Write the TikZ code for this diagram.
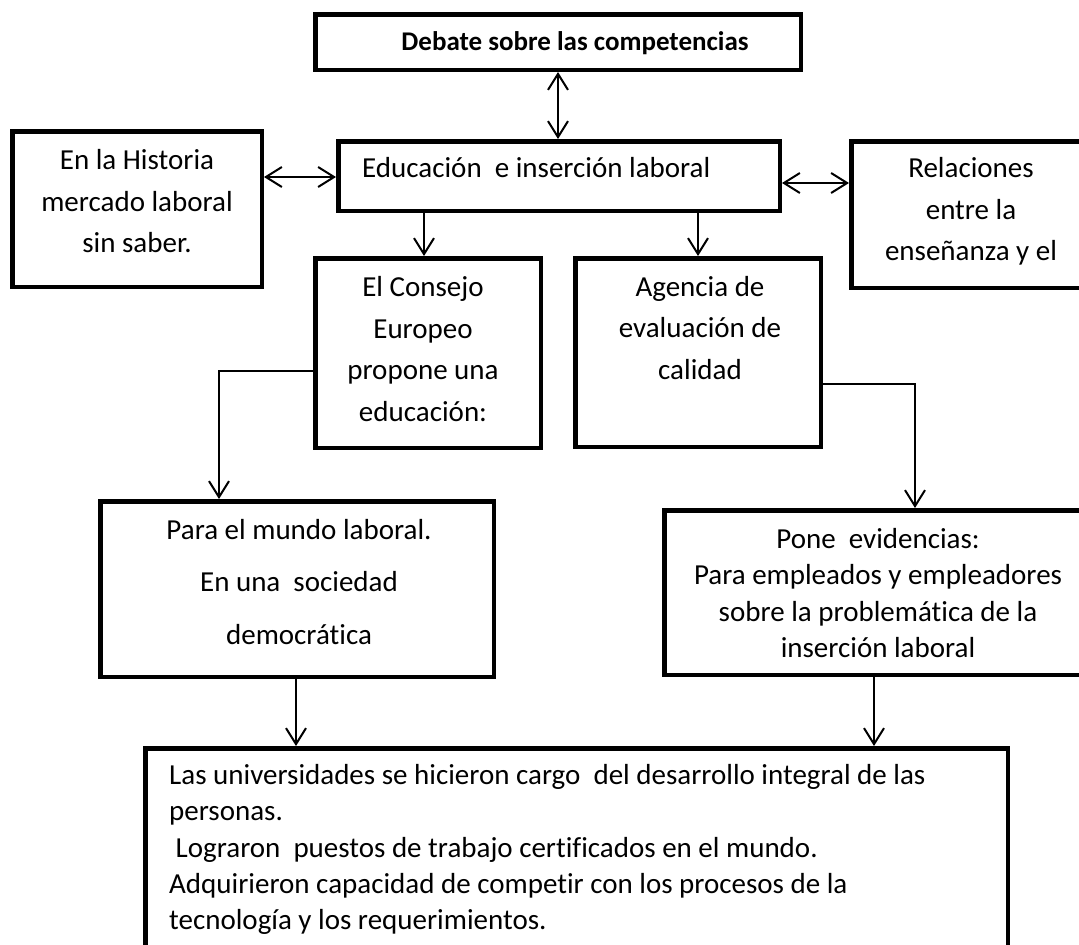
\documentclass[tikz,border=0pt]{standalone}
\usepackage{fontspec}
\setmainfont{Carlito}[Ligatures=CommonOff]
\usetikzlibrary{arrows.meta}
\begin{document}
\begin{tikzpicture}[x=1pt,y=-1pt,
  box/.style={draw, line width=4.5pt, inner sep=0pt, rectangle},
  txt/.style={inner sep=0pt, align=center, font=\fontsize{29}{41.5}\selectfont},
  conn/.style={line width=2pt},
  arr/.style={conn, -{Straight Barb[length=16pt,width=20pt]}},
  dbl/.style={conn, {Straight Barb[length=16pt,width=20pt]}-{Straight Barb[length=16pt,width=20pt]}}]
\useasboundingbox (0,0) rectangle (1079,945);
\clip (0,0) rectangle (1079,945);
\fill[white] (0,0) rectangle (1079,945);
% boxes
\node[box, minimum width=485.5pt, minimum height=55.5pt] (debate) at (558,42) {};
\node[box, minimum width=249.5pt, minimum height=155.5pt] (hist) at (137,209) {};
\node[box, minimum width=441.5pt, minimum height=69.5pt] (edu) at (559,176) {};
\node[box, minimum width=236.5pt, minimum height=146.5pt] (rel) at (969.5,214.5) {};
\node[box, minimum width=225.5pt, minimum height=189.5pt] (consejo) at (428,353) {};
\node[box, minimum width=245.5pt, minimum height=188.5pt] (agencia) at (698,352.5) {};
\node[box, minimum width=393.5pt, minimum height=175.5pt] (para) at (297,589) {};
\node[box, minimum width=423.5pt, minimum height=164.5pt] (pone) at (876,592.5) {};
\node[box, minimum width=862.5pt, minimum height=209.5pt] (bottom) at (576.5,853) {};
% texts
\node[txt, font=\bfseries\fontsize{27}{32}\selectfont] (tdebate) at (575,43) {Debate sobre las competencias};
\node[txt] (thist) at (137,201.5) {En la Historia\\mercado laboral\\sin saber.};
\node[txt, anchor=west] (tedu) at (362,168) {Educación\ \ e inserción laboral};
\node[txt] (trel) at (971,211.5) {Relaciones\\entre la\\enseñanza y el};
\node[txt] (tcons) at (423,349) {El Consejo\\Europeo\\propone una\\educación:};
\node[txt] (tage) at (700,328) {Agencia de\\evaluación de\\calidad};
\node[txt, font=\fontsize{29}{52.5}\selectfont] (tpara) at (299,582) {Para el mundo laboral.\\En una\ \ sociedad\\democrática};
\node[txt, font=\fontsize{29}{36.3}\selectfont] (tpone) at (878,593) {Pone\ \ evidencias:\\Para empleados y empleadores\\sobre la problemática de la\\inserción laboral};
\node[txt, align=left, anchor=west, font=\fontsize{29}{36.2}\selectfont] (tbot) at (169,849.5) {Las universidades se hicieron cargo\ \ del desarrollo integral de las\\personas.\\\hspace*{6.5pt}Lograron\ \ puestos de trabajo certificados en el mundo.\\Adquirieron capacidad de competir con los procesos de la\\tecnología y los requerimientos.};
% helper coordinates
\coordinate (yL) at (0,177);
\coordinate (yR) at (0,183);
\coordinate (xC) at (424,0);
\coordinate (yCw) at (0,371);
\coordinate (xP) at (219,0);
\coordinate (yAe) at (0,384);
\coordinate (xQ) at (915,0);
\coordinate (xPb) at (296,0);
\coordinate (xB2) at (874,0);
% connectors
\draw[dbl] (debate.south) -- (debate.south |- edu.north);
\draw[dbl] (hist.east |- yL) -- (edu.west |- yL);
\draw[dbl] (edu.east |- yR) -- (rel.west |- yR);
\draw[arr] (edu.south -| xC) -- (consejo.north -| xC);
\draw[arr] (edu.south -| agencia.north) -- (agencia.north);
\draw[arr] (consejo.west |- yCw) -| (para.north -| xP);
\draw[arr] (agencia.east |- yAe) -| (pone.north -| xQ);
\draw[arr] (para.south -| xPb) -- (bottom.north -| xPb);
\draw[arr] (pone.south -| xB2) -- (bottom.north -| xB2);
\end{tikzpicture}
\end{document}
